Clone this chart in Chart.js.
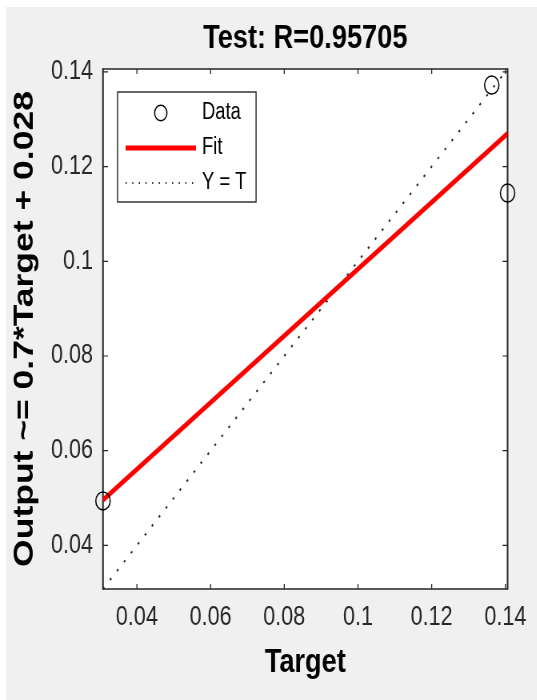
<!DOCTYPE html>
<html><head><meta charset="utf-8">
<script src="https://cdn.jsdelivr.net/npm/chart.js@4.4.1/dist/chart.umd.min.js"></script>
<style>
html,body{margin:0;padding:0;background:#fff;overflow:hidden;width:537px;height:700px;}
#panel{position:absolute;left:6px;top:7px;right:0;bottom:0;background:#f0f0f0;}
#wrap{position:absolute;left:0;top:0;width:671px;height:700px;transform:scaleX(0.8);transform-origin:0 0;}
</style></head><body>
<div id="panel"></div>
<div id="wrap"><canvas id="c"></canvas></div>
<script>
// ---- data ----
const titleText = 'Test: R=0.95705';
const xTitle = 'Target';
const yTitle = 'Output ~= 0.7*Target + 0.028';
const axisMin = 0.0308;
const axisMax = 0.1406;
const tickValues = [0.04, 0.06, 0.08, 0.1, 0.12, 0.14];
const tickLabels = ['0.04', '0.06', '0.08', '0.1', '0.12', '0.14'];
const seriesNames = ['Data', 'Fit', 'Y = T'];
const dataTarget = [0.0308, 0.1363, 0.1406];
const dataOutput = [0.0494, 0.1372, 0.1144];
const fitTarget = [0.0308, 0.1406];
const fitOutput = [0.0496, 0.1270];
const ytTarget = [0.0308, 0.1406];
const ytOutput = [0.0308, 0.1406];

const FAMILY = '"Liberation Sans", Arial, Helvetica, sans-serif';
const AX = '#262626';

function mk(w, h, draw) { const c = document.createElement('canvas'); c.width = w; c.height = h; draw(c.getContext('2d')); return c; }
const imgData = mk(20, 20, g => { g.strokeStyle = '#000'; g.lineWidth = 1.5; g.beginPath(); g.arc(10, 10, 7.7, 0, Math.PI * 2); g.stroke(); });
const imgFit = mk(88, 6, g => { g.fillStyle = '#ff0000'; g.fillRect(0, 0.5, 88, 5); });
const imgYT = mk(88, 4, g => { g.fillStyle = AX; for (let x = 0; x < 88; x += 8.3) g.fillRect(x, 1, 1.4, 2); });
const legendImgs = [imgData, imgFit, imgYT];

const pts = (xs, ys) => xs.map((x, i) => ({x: x, y: ys[i]}));

const framePlugin = {
  id: 'frame',
  afterLayout(chart) {
    const lg = chart.legend;
    if (!lg) return;
    const a = chart.chartArea;
    const dx = 20.25;
    const newTop = a.top + 20.5;
    const h = lg.bottom - lg.top;
    lg.left += dx; lg.right += dx;
    lg.top = newTop; lg.bottom = newTop + h;
  },
  beforeDraw(chart) {
    const {ctx, chartArea: a} = chart;
    ctx.save(); ctx.fillStyle = '#fff';
    ctx.fillRect(a.left, a.top, a.right - a.left, a.bottom - a.top);
    ctx.restore();
  },
  beforeDatasetsDraw(chart) {
    const {ctx, chartArea: a, scales} = chart;
    ctx.save();
    ctx.strokeStyle = AX;
    ctx.lineWidth = 1.6;
    ctx.beginPath();
    ctx.moveTo(a.left, a.top); ctx.lineTo(a.right, a.top);
    ctx.moveTo(a.left, a.bottom); ctx.lineTo(a.right, a.bottom);
    ctx.stroke();
    ctx.lineWidth = 2;
    ctx.beginPath();
    ctx.moveTo(a.left, a.top - 0.8); ctx.lineTo(a.left, a.bottom + 0.8);
    ctx.moveTo(a.right, a.top - 0.8); ctx.lineTo(a.right, a.bottom + 0.8);
    ctx.stroke();
    ctx.lineWidth = 1.3;
    ctx.beginPath();
    tickValues.forEach(v => {
      const px = scales.x.getPixelForValue(v);
      ctx.moveTo(px, a.bottom); ctx.lineTo(px, a.bottom - 5);
      ctx.moveTo(px, a.top); ctx.lineTo(px, a.top + 5);
    });
    ctx.stroke();
    ctx.lineWidth = 1.2;
    ctx.beginPath();
    tickValues.forEach(v => {
      const py = scales.y.getPixelForValue(v);
      ctx.moveTo(a.left, py); ctx.lineTo(a.left + 6.25, py);
      ctx.moveTo(a.right, py); ctx.lineTo(a.right - 6.25, py);
    });
    ctx.stroke();
    ctx.restore();
  },
  afterDraw(chart) {
    const lg = chart.legend;
    if (!lg || !lg.legendHitBoxes || !lg.legendHitBoxes.length) return;
    const hb = lg.legendHitBoxes;
    let l = Infinity, t = Infinity, r = -Infinity, b = -Infinity;
    hb.forEach(h => { l = Math.min(l, h.left); t = Math.min(t, h.top); r = Math.max(r, h.left + h.width); b = Math.max(b, h.top + h.height); });
    const ctx = chart.ctx;
    ctx.save();
    ctx.strokeStyle = AX; ctx.lineWidth = 1.4;
    ctx.strokeRect(l - 14, t - 9.5, (r + 12) - (l - 14), (b + 7.5) - (t - 9.5));
    ctx.restore();
  }
};

new Chart(document.getElementById('c'), {
  type: 'scatter',
  data: {
    datasets: [
      { label: seriesNames[0], data: pts(dataTarget, dataOutput), showLine: false,
        pointStyle: 'circle', pointRadius: 9, pointHoverRadius: 9, pointBorderWidth: 1.5,
        pointBorderColor: '#000', pointBackgroundColor: 'rgba(0,0,0,0)',
        borderColor: '#000', backgroundColor: 'rgba(0,0,0,0)', clip: false, xAxisID: 'x', yAxisID: 'y' },
      { label: seriesNames[1], data: pts(fitTarget, fitOutput), showLine: true,
        borderColor: '#ff0000', backgroundColor: '#ff0000', borderWidth: 5, pointRadius: 0, pointHoverRadius: 0,
        fill: false, xAxisID: 'x', yAxisID: 'y' },
      { label: seriesNames[2], data: pts(ytTarget, ytOutput), showLine: true,
        borderColor: AX, backgroundColor: AX, borderWidth: 2, borderDash: [2.5, 10], pointRadius: 0, pointHoverRadius: 0,
        fill: false, xAxisID: 'x', yAxisID: 'y' }
    ]
  },
  options: {
    responsive: true, maintainAspectRatio: false, animation: false,
    devicePixelRatio: 1,
    layout: { padding: { left: 0, right: 33.5, top: 0, bottom: 0 } },
    plugins: {
      tooltip: { enabled: false },
      title: { display: false },
      legend: {
        display: true, position: 'chartArea', align: 'start',
        labels: {
          usePointStyle: true, pointStyleWidth: 80, boxHeight: 10, padding: 12,
          color: '#000', font: { family: FAMILY, size: 23 },
          generateLabels(chart) {
            const items = Chart.defaults.plugins.legend.labels.generateLabels(chart);
            items.forEach((it, i) => {
              it.pointStyle = legendImgs[i];
              it.fillStyle = 'rgba(0,0,0,0)';
              it.strokeStyle = 'rgba(0,0,0,0)';
              it.lineDash = [];
              it.fontColor = '#000';
            });
            return items;
          }
        }
      }
    },
    scales: {
      x: {
        type: 'linear', position: 'bottom', min: axisMin, max: axisMax,
        afterBuildTicks: s => { s.ticks = tickValues.map(v => ({ value: v })); },
        afterFit: s => { s.height = 111; },
        grid: { display: false, drawTicks: false }, border: { display: false },
        ticks: { padding: 12.8, color: AX, autoSkip: false, maxRotation: 0,
          font: { family: FAMILY, size: 27 }, callback: (v, i) => tickLabels[i] },
        title: { display: true, text: xTitle, color: '#000',
          font: { family: FAMILY, size: 34, weight: 'bold' }, padding: { top: 0, bottom: 17 } }
      },
      xTop: {
        type: 'linear', position: 'top', min: axisMin, max: axisMax, display: true,
        afterFit: s => { s.height = 69; },
        grid: { display: false, drawTicks: false }, border: { display: false },
        ticks: { display: false },
        title: { display: true, text: titleText, color: '#000',
          font: { family: FAMILY, size: 34, weight: 'bold' }, padding: { top: 18.6, bottom: 0 } }
      },
      y: {
        type: 'linear', position: 'left', min: axisMin, max: axisMax,
        afterBuildTicks: s => { s.ticks = tickValues.map(v => ({ value: v })); },
        afterFit: s => { s.width = 128.75; },
        grid: { display: false, drawTicks: false }, border: { display: false },
        ticks: { padding: 12.5, color: AX, autoSkip: false,
          font: { family: FAMILY, size: 27 }, callback: (v, i) => tickLabels[i] },
        title: { display: true, text: yTitle, color: '#000',
          font: { family: FAMILY, size: 35.5, weight: 'bold' }, padding: { top: 10, bottom: 0 } }
      }
    }
  },
  plugins: [framePlugin]
});
</script>
</body></html>
